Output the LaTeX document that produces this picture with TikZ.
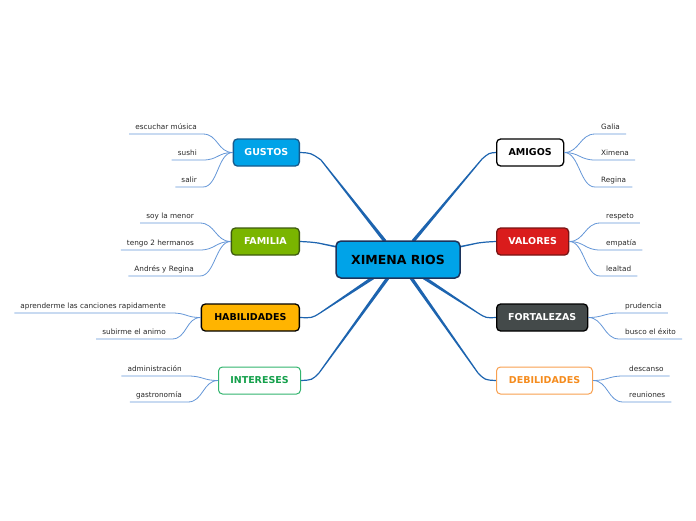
\documentclass[tikz,border=0pt]{standalone}
\usepackage{fontspec}
\setmainfont{DejaVu Sans}
\usepackage{xcolor}
\usetikzlibrary{calc,backgrounds}

\definecolor{skyfill}{RGB}{0,163,232}
\definecolor{skyedge}{RGB}{28,52,92}
\definecolor{gusedge}{RGB}{22,90,140}
\definecolor{famfill}{RGB}{122,181,0}
\definecolor{famedge}{RGB}{62,90,15}
\definecolor{habfill}{RGB}{255,180,0}
\definecolor{intedge}{RGB}{50,180,110}
\definecolor{inttext}{RGB}{20,160,75}
\definecolor{valfill}{RGB}{218,28,28}
\definecolor{valedge}{RGB}{120,20,20}
\definecolor{forfill}{RGB}{68,74,74}
\definecolor{debedge}{RGB}{248,160,80}
\definecolor{debtext}{RGB}{245,140,30}
\definecolor{trunkcol}{RGB}{29,100,175}
\definecolor{twigcol}{RGB}{100,150,215}
\definecolor{leaftext}{RGB}{40,40,40}

% tapered main connector: [half width at start] start, knee, bend, end
\newcommand\trunkline[5][1.7pt]{%
  \fill[trunkcol] ($(#2)!#1!90:(#3)$) -- ($(#3)!0.6pt!-90:(#2)$)
    -- ($(#3)!0.6pt!90:(#2)$) -- ($(#2)!#1!-90:(#3)$) -- cycle;
  \draw[trunkcol, line width=1.2pt] (#3) .. controls (#4) .. (#5);}

\begin{document}
\begin{tikzpicture}[x=1pt, y=-1pt,
  branch/.style={draw, rounded corners=4pt, line width=1.3pt, minimum height=27pt,
    inner sep=2pt, font=\fontsize{9.5}{11}\selectfont\bfseries},
  leaf/.style={inner xsep=6pt, inner ysep=3pt, text height=5.5pt, text depth=1.5pt,
    text=leaftext, font=\fontsize{7.3}{9}\selectfont},
  twig/.style={draw=twigcol, line width=0.8pt}]
\useasboundingbox (0,0) rectangle (696,520);

% central topic
\node[draw=skyedge, fill=skyfill, rounded corners=5pt, line width=1.5pt, minimum width=124pt,
  minimum height=37pt, font=\fontsize{12.5}{14}\selectfont\bfseries] (main) at (398,259.5) {XIMENA RIOS};

% branches
\node[branch, fill=skyfill, draw=gusedge, text=white, minimum width=66pt, anchor=east] (gus) at (300,152.5) {GUSTOS};
\node[branch, fill=famfill, draw=famedge, text=white, minimum width=68pt, anchor=east] (fam) at (300,241.5) {FAMILIA};
\node[branch, fill=habfill, draw=black, minimum width=98pt, anchor=east] (hab) at (300,317.5) {HABILIDADES};
\node[branch, fill=white, draw=intedge, text=inttext, line width=1pt, minimum width=82pt, anchor=east] (int) at (301,380.5) {INTERESES};
\node[branch, fill=white, draw=black, minimum width=67pt, anchor=west] (ami) at (496,152.5) {AMIGOS};
\node[branch, fill=valfill, draw=valedge, text=white, minimum width=72pt, anchor=west] (val) at (496,241.5) {VALORES};
\node[branch, fill=forfill, draw=black, text=white, minimum width=91pt, anchor=west] (for) at (496,317.5) {FORTALEZAS};
\node[branch, fill=white, draw=debedge, text=debtext, line width=1pt, minimum width=96pt, anchor=west] (deb) at (496,380.5) {DEBILIDADES};

% main connectors, behind the nodes
\coordinate (k1) at (321,160); \coordinate (c1) at (311,153);
\coordinate (k2) at (482,159); \coordinate (c2) at (489,153);
\coordinate (k3) at (318,243); \coordinate (c3) at (310,242);
\coordinate (k4) at (478,243); \coordinate (c4) at (486,242);
\coordinate (k5) at (320,313); \coordinate (c5) at (312,318);
\coordinate (k6) at (319,373); \coordinate (c6) at (312,380);
\coordinate (k7) at (478,313); \coordinate (c7) at (486,318);
\coordinate (k8) at (478,373); \coordinate (c8) at (485,380);
\coordinate (s1) at ([xshift=-13pt, yshift=-1pt]main.north);
\coordinate (s2) at ([xshift=15pt, yshift=-1pt]main.north);
\coordinate (s3) at ([xshift=2pt, yshift=12.5pt]main.west);
\coordinate (s4) at ([xshift=-2pt, yshift=12.5pt]main.east);
\coordinate (s5) at ([xshift=-25pt, yshift=1pt]main.south);
\coordinate (s6) at ([xshift=-10pt, yshift=1pt]main.south);
\coordinate (s7) at ([xshift=26pt, yshift=1pt]main.south);
\coordinate (s8) at ([xshift=13pt, yshift=1pt]main.south);
\begin{scope}[on background layer]
\trunkline{s1}{k1}{c1}{gus.east}
\trunkline{s2}{k2}{c2}{ami.west}
\trunkline[0.8pt]{s3}{k3}{c3}{fam.east}
\trunkline[0.8pt]{s4}{k4}{c4}{val.west}
\trunkline{s5}{k5}{c5}{hab.east}
\trunkline{s6}{k6}{c6}{int.east}
\trunkline{s7}{k7}{c7}{for.west}
\trunkline{s8}{k8}{c8}{deb.west}
\end{scope}

% GUSTOS
\node[leaf, anchor=south east] (g1) at (203,134) {escuchar música};
\node[leaf, anchor=south east] (g2) at (203,160) {sushi};
\node[leaf, anchor=south east] (g3) at (203,187) {salir};
\foreach \l in {g1,g2,g3}
  \draw[twig] (gus.west) .. controls +(-15,0) and +(15,0) .. (\l.south east) -- (\l.south west);

% FAMILIA
\node[leaf, anchor=south east] (f1) at (200,223) {soy la menor};
\node[leaf, anchor=south east] (f2) at (200,250) {tengo 2 hermanos};
\node[leaf, anchor=south east] (f3) at (200,276) {Andrés y Regina};
\foreach \l in {f1,f2,f3}
  \draw[twig] (fam.west) .. controls +(-15,0) and +(15,0) .. (\l.south east) -- (\l.south west);

% HABILIDADES
\node[leaf, anchor=south east] (h1) at (172,313) {aprenderme las canciones rapidamente};
\node[leaf, anchor=south east] (h2) at (172,339) {subirme el animo};
\foreach \l in {h1,h2}
  \draw[twig] (hab.west) .. controls +(-15,0) and +(15,0) .. (\l.south east) -- (\l.south west);

% INTERESES
\node[leaf, anchor=south east] (i1) at (188,376) {administración};
\node[leaf, anchor=south east] (i2) at (188,402) {gastronomía};
\foreach \l in {i1,i2}
  \draw[twig] (int.west) .. controls +(-15,0) and +(15,0) .. (\l.south east) -- (\l.south west);

% AMIGOS
\node[leaf, anchor=south west] (a1) at (595,134) {Galia};
\node[leaf, anchor=south west] (a2) at (595,160) {Ximena};
\node[leaf, anchor=south west] (a3) at (595,187) {Regina};
\foreach \l in {a1,a2,a3}
  \draw[twig] (ami.east) .. controls +(15,0) and +(-15,0) .. (\l.south west) -- (\l.south east);

% VALORES
\node[leaf, anchor=south west] (v1) at (600,223) {respeto};
\node[leaf, anchor=south west] (v2) at (600,250) {empatía};
\node[leaf, anchor=south west] (v3) at (600,276) {lealtad};
\foreach \l in {v1,v2,v3}
  \draw[twig] (val.east) .. controls +(15,0) and +(-15,0) .. (\l.south west) -- (\l.south east);

% FORTALEZAS
\node[leaf, anchor=south west] (p1) at (619,313) {prudencia};
\node[leaf, anchor=south west] (p2) at (619,339) {busco el éxito};
\foreach \l in {p1,p2}
  \draw[twig] (for.east) .. controls +(15,0) and +(-15,0) .. (\l.south west) -- (\l.south east);

% DEBILIDADES
\node[leaf, anchor=south west] (d1) at (623,376) {descanso};
\node[leaf, anchor=south west] (d2) at (623,402) {reuniones};
\foreach \l in {d1,d2}
  \draw[twig] (deb.east) .. controls +(15,0) and +(-15,0) .. (\l.south west) -- (\l.south east);
\end{tikzpicture}
\end{document}
